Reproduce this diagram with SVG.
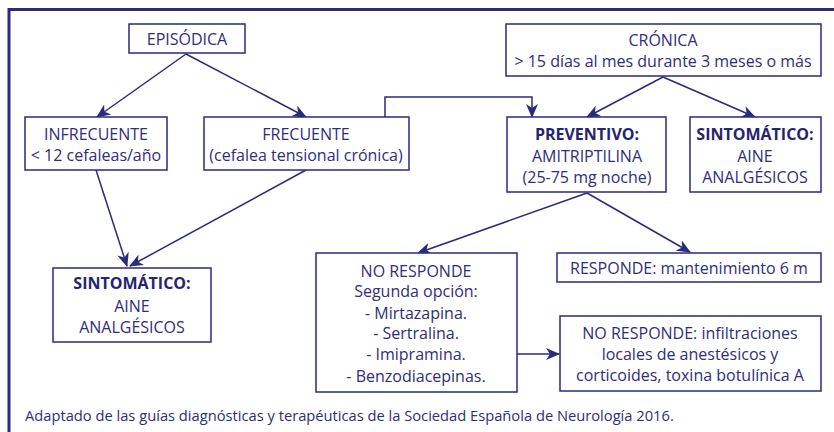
<svg xmlns="http://www.w3.org/2000/svg" width="834" height="432" viewBox="0 0 834 432">
<defs>
<marker id="ah" markerWidth="14" markerHeight="12" viewBox="0 0 14 12" refX="13" refY="6" orient="auto" markerUnits="userSpaceOnUse">
<path d="M0,0 L14,6 L0,12 L4,6 Z" fill="#2b2a7d"/>
</marker>
<style>
.b{fill:#fff;stroke:#2b2a7d;stroke-width:1.5}
.t{font-family:"Open Sans","Liberation Sans",Arial,sans-serif;font-size:16px;fill:#2e2d80;text-anchor:middle}
.bd{font-weight:bold;fill:#25246f}
.c{fill:none;stroke:#2b2a7d;stroke-width:1.5;marker-end:url(#ah)}
.f{fill:none;stroke:#2b2a7d;stroke-width:3}
</style>
</defs>
<rect width="834" height="432" fill="#fff"/>
<path class="f" d="M9,432 V9.5 H834"/>
<g id="connectors">
<line class="c" x1="186" y1="54" x2="97" y2="117"/>
<line class="c" x1="186" y1="54" x2="306" y2="117"/>
<path class="c" d="M385,117 V97 H532 V117"/>
<line class="c" x1="663" y1="77" x2="587" y2="117"/>
<line class="c" x1="663" y1="77" x2="755" y2="117"/>
<line class="c" x1="96" y1="170" x2="127" y2="266"/>
<line class="c" x1="306" y1="170" x2="130" y2="266"/>
<line class="c" x1="587" y1="193" x2="418" y2="253"/>
<line class="c" x1="587" y1="193" x2="690" y2="252"/>
<line class="c" x1="517" y1="354" x2="559" y2="354"/>
</g>
<g id="episodica">
<rect class="b" x="129" y="24" width="116" height="29"/>
<text class="t" x="187" y="45">EPISÓDICA</text>
</g>
<g id="infrecuente">
<rect class="b" x="25" y="117" width="142" height="53"/>
<text class="t" x="96" y="140">INFRECUENTE</text>
<text class="t" x="96" y="161">&lt; 12 cefaleas/año</text>
</g>
<g id="frecuente">
<rect class="b" x="204" y="117" width="205" height="53"/>
<text class="t" x="306" y="140">FRECUENTE</text>
<text class="t" x="306" y="161">(cefalea tensional crónica)</text>
</g>
<g id="cronica">
<rect class="b" x="506" y="24" width="315" height="52"/>
<text class="t" x="663" y="46">CRÓNICA</text>
<text class="t" x="663" y="67">&gt; 15 días al mes durante 3 meses o más</text>
</g>
<g id="preventivo">
<rect class="b" x="507" y="117" width="159" height="75"/>
<text class="t bd" x="587" y="140">PREVENTIVO:</text>
<text class="t" x="587" y="162">AMITRIPTILINA</text>
<text class="t" x="587" y="183">(25-75 mg noche)</text>
</g>
<g id="sintomatico-cronica">
<rect class="b" x="690" y="117" width="131" height="75"/>
<text class="t bd" x="755" y="140">SINTOMÁTICO:</text>
<text class="t" x="755" y="162">AINE</text>
<text class="t" x="755" y="183">ANALGÉSICOS</text>
</g>
<g id="sintomatico-episodica">
<rect class="b" x="53" y="268" width="158" height="74"/>
<text class="t bd" x="132" y="289">SINTOMÁTICO:</text>
<text class="t" x="132" y="312">AINE</text>
<text class="t" x="132" y="333">ANALGÉSICOS</text>
</g>
<g id="no-responde-1">
<rect class="b" x="316" y="253" width="201" height="139"/>
<text class="t" x="416" y="277">NO RESPONDE</text>
<text class="t" x="416" y="297">Segunda opción:</text>
<text class="t" x="416" y="319">- Mirtazapina.</text>
<text class="t" x="416" y="339">- Sertralina.</text>
<text class="t" x="416" y="360">- Imipramina.</text>
<text class="t" x="416" y="382">- Benzodiacepinas.</text>
</g>
<g id="responde">
<rect class="b" x="557" y="253" width="264" height="29"/>
<text class="t" x="689" y="274">RESPONDE: mantenimiento 6 m</text>
</g>
<g id="no-responde-2">
<rect class="b" x="560" y="316" width="261" height="75"/>
<text class="t" x="690" y="339">NO RESPONDE: infiltraciones</text>
<text class="t" x="690" y="360">locales de anestésicos y</text>
<text class="t" x="690" y="381">corticoides, toxina botulínica A</text>
</g>
<text class="t" x="25" y="421" style="text-anchor:start;font-size:14.7px">Adaptado de las guías diagnósticas y terapéuticas de la Sociedad Española de Neurología 2016.</text>
</svg>
